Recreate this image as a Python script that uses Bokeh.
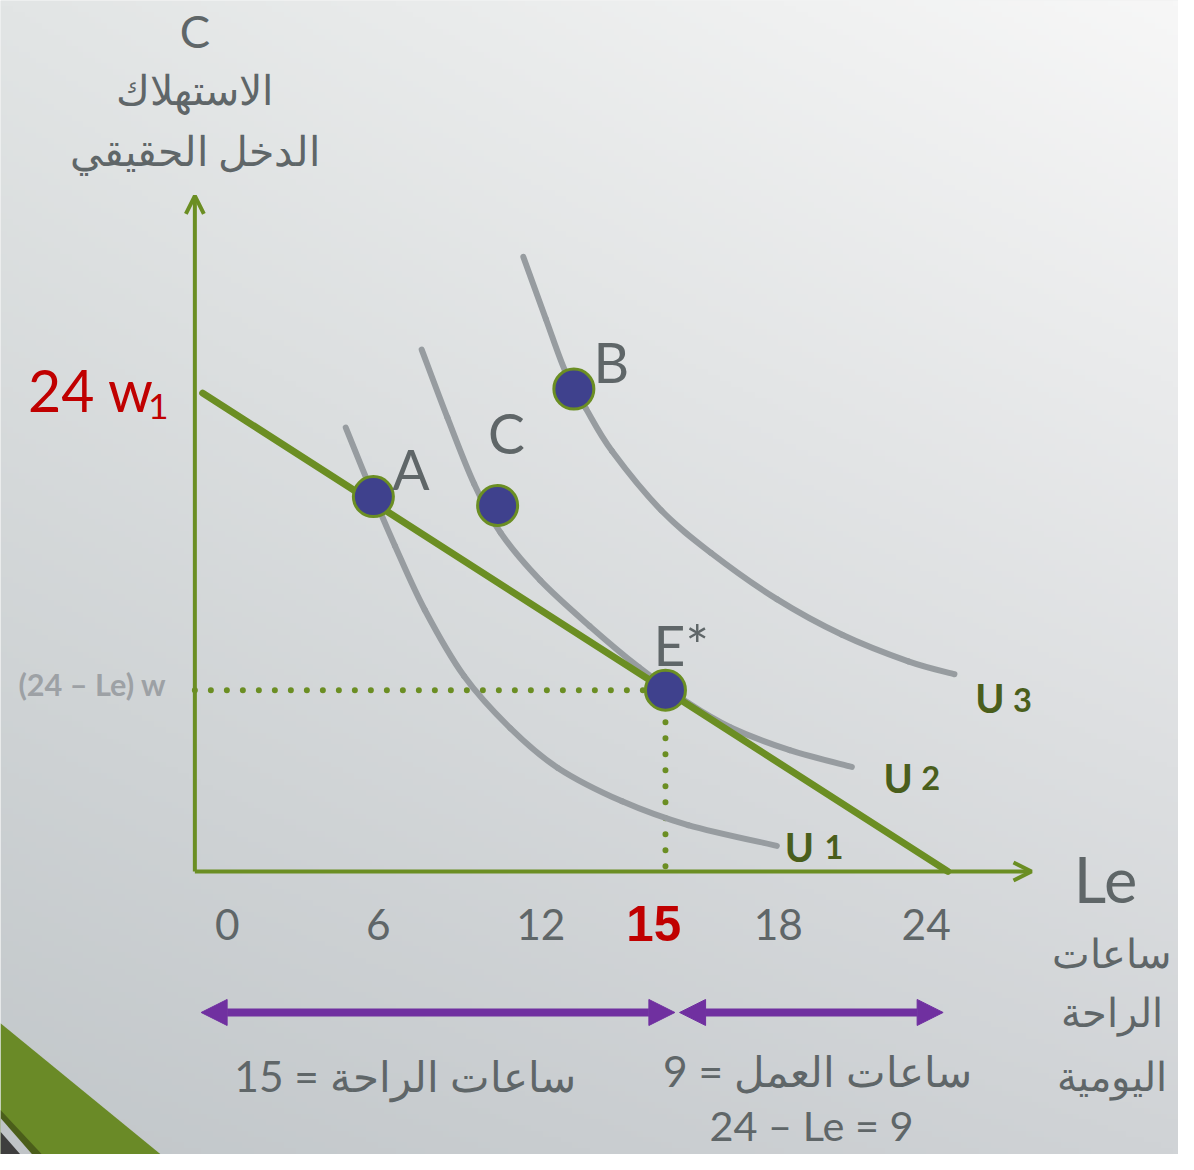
import numpy as np
from bokeh.plotting import figure
from bokeh.models import Range1d, Arrow, OpenHead, NormalHead
from bokeh.core.properties import value
from bokeh.embed import file_html
from bokeh.resources import INLINE

# ---------------- data (Le = daily leisure hours, C = consumption) ----------------
u1_le = [4.81, 5.69, 6.38, 7.33, 8.58, 10.06, 11.57, 13.62, 15.72, 18.55]
u1_c = [22.04, 18.66, 16.16, 12.98, 9.70, 7.10, 5.14, 3.48, 2.30, 1.27]
u2_le = [7.23, 8.05, 8.90, 9.75, 11.01, 12.58, 14.15, 15.72, 17.08, 18.96, 20.94]
u2_c = [25.91, 22.53, 19.25, 16.80, 14.45, 12.19, 10.14, 8.37, 7.15, 6.02, 5.19]
u3_le = [10.47, 11.19, 11.82, 12.45, 13.30, 14.87, 16.45, 18.55, 20.63, 22.74, 24.21]
u3_c = [30.51, 27.42, 24.78, 23.02, 20.86, 17.92, 15.82, 13.52, 11.75, 10.43, 9.79]
curve_names = ["U", "U", "U"]
curve_index = ["1", "2", "3"]

point_names = ["A", "C", "B", "E*"]
point_le = [5.69, 9.65, 12.08, 15.0]
point_c = [18.61, 18.17, 23.95, 9.0]

budget_le = [0.25, 24.0]
budget_c = [23.75, 0.0]

total_hours = 24
le_star = 15
work_hours = total_hours - le_star

tick_values = [0, 6, 12, 15, 18, 24]
tick_labels = ["0", "6", "12", "15", "18", "24"]

# ---------------- layout / style ----------------
W, H = 1178, 1154
REF_W, REF_H = 1194, 1170
S = W / REF_W
ORIG_X, PX_PER_H = 197.0, 31.8      # reference pixel of Le = 0, pixels per hour
ORIG_Y, PX_PER_C = 883.0, 20.42     # reference pixel of C = 0, pixels per unit


def X(px):
    return (px - ORIG_X) / PX_PER_H


def Y(py):
    return (ORIG_Y - py) / PX_PER_C


def fs(n):
    return f"{n * S:.1f}px"


def sc(vals):
    return [v * S for v in vals]


GREEN = "#6b8e23"
CURVE = "#979ca0"
DOT = "#3f418d"
TXT = "#5f6668"
RED = "#c00000"
ULAB = "#4a5e1c"
PURPLE = "#7030a0"
LATIN = value("Lato")

p = figure(width=W, height=H, output_backend="svg", toolbar_location=None,
           x_range=Range1d(X(0), X(REF_W)), y_range=Range1d(Y(REF_H), Y(0)),
           x_axis_location=None, y_axis_location=None, min_border=0)
p.grid.visible = False
p.outline_line_color = None
p.background_fill_color = "#e6e8e8"
p.border_fill_color = "#e6e8e8"

# background gradient (slide)
ny, nx = 200, 200
u = np.linspace(0, 1, nx)[None, :, None]
v = np.linspace(0, 1, ny)[:, None, None]
TL = np.array([226, 229, 229]); TR = np.array([247, 247, 247])
BL = np.array([194, 199, 202]); BR = np.array([208, 211, 214])
rgb = BL * (1 - u) * (1 - v) + BR * u * (1 - v) + TL * (1 - u) * v + TR * u * v
img = np.empty((ny, nx), dtype=np.uint32)
view = img.view(dtype=np.uint8).reshape((ny, nx, 4))
view[..., :3] = np.clip(rgb, 0, 255).astype(np.uint8)
view[..., 3] = 255
p.image_rgba(image=[img], x=X(0), y=Y(REF_H), dw=X(REF_W) - X(0), dh=Y(0) - Y(REF_H))

# slide corner decoration
for poly, col in [([(0, 1037), (165, 1172), (0, 1172)], "#6a8a27"),
                  ([(0, 1125), (44, 1172), (0, 1172)], "#4b5e1a"),
                  ([(0, 1133), (34, 1172), (0, 1172)], "#c0c4c7"),
                  ([(0, 1147), (22, 1172), (0, 1172)], "#3e3e3e")]:
    p.patch([X(a) for a, b in poly], [Y(b) for a, b in poly], fill_color=col, line_color=None)

# axes with arrow heads
p.add_layout(Arrow(x_start=0, y_start=0, x_end=0, y_end=Y(198), line_color=GREEN, line_width=4,
                   end=OpenHead(size=18, line_color=GREEN, line_width=4)))
p.add_layout(Arrow(x_start=0, y_start=0, x_end=X(1045), y_end=0, line_color=GREEN, line_width=4,
                   end=OpenHead(size=18, line_color=GREEN, line_width=4)))

# dotted guides to the optimum
p.line([0, le_star], [work_hours, work_hours], line_color=GREEN, line_width=6,
       line_dash="0 16", line_cap="round")
p.line([le_star, le_star], [work_hours, 0], line_color=GREEN, line_width=6,
       line_dash="0 16", line_cap="round")


# indifference curves, drawn as smooth Bezier segments through the read points
def bezier_through(xs, ys):
    P = np.column_stack([xs, ys]).astype(float)
    n = len(P)
    out = {k: [] for k in ("x0", "y0", "x1", "y1", "cx0", "cy0", "cx1", "cy1")}
    for i in range(n - 1):
        p0 = P[i - 1] if i > 0 else P[i]
        p1, p2 = P[i], P[i + 1]
        p3 = P[i + 2] if i + 2 < n else P[i + 1]
        c1 = p1 + (p2 - p0) / 6.0
        c2 = p2 - (p3 - p1) / 6.0
        out["x0"].append(p1[0]); out["y0"].append(p1[1])
        out["x1"].append(p2[0]); out["y1"].append(p2[1])
        out["cx0"].append(c1[0]); out["cy0"].append(c1[1])
        out["cx1"].append(c2[0]); out["cy1"].append(c2[1])
    return out


for xs, ys in [(u1_le, u1_c), (u2_le, u2_c), (u3_le, u3_c)]:
    p.bezier(**bezier_through(xs, ys), line_color=CURVE, line_width=6, line_cap="round")

# budget line
p.line(budget_le, budget_c, line_color=GREEN, line_width=7, line_cap="round")

# points
p.scatter(point_le, point_c, size=40, fill_color=DOT, line_color=GREEN, line_width=3)
p.text(point_le, point_c, text=point_names, x_offset=sc([38, 9, 38, 16]),
       y_offset=sc([-28, -73, -27, -46]),
       text_font=LATIN, text_font_size=fs(56), text_color=TXT, text_align="center",
       text_baseline="middle")

# curve labels
ends_le = [u1_le[-1], u2_le[-1], u3_le[-1]]
ends_c = [u1_c[-1], u2_c[-1], u3_c[-1]]
p.text(ends_le, ends_c, text=curve_names, x_offset=sc([23, 47, 36]), y_offset=sc([1, 11, 24]),
       text_font=LATIN, text_font_size=fs(40), text_font_style="bold", text_color=ULAB,
       text_align="center", text_baseline="alphabetic")
p.text(ends_le, ends_c, text=curve_index, x_offset=sc([58, 80, 69]), y_offset=sc([1, 11, 26]),
       text_font=LATIN, text_font_size=fs(33), text_font_style="bold", text_color=ULAB,
       text_align="center", text_baseline="alphabetic")

# x tick labels
tick_dx = [33, -5, -31, -12, 19, -22]
norm = [i for i, t in enumerate(tick_values) if t != le_star]
p.text([tick_values[i] for i in norm], [Y(937)] * len(norm), text=[tick_labels[i] for i in norm],
       x_offset=sc([tick_dx[i] for i in norm]), text_font=LATIN, text_font_size=fs(43),
       text_color=TXT, text_align="center", text_baseline="middle")
k = tick_values.index(le_star)
p.text([tick_values[k]], [Y(936)], text=[tick_labels[k]], x_offset=sc([tick_dx[k]]),
       text_font=value("Liberation Sans"), text_font_size=fs(50), text_font_style="bold",
       text_color=RED, text_align="center", text_baseline="middle")

# y axis title
p.text([0], [Y(30)], text=["C"], text_font=LATIN, text_font_size=fs(46), text_color=TXT,
       text_align="center", text_baseline="middle")
p.text([0, 0], [Y(90), Y(152)], text=["الاستهلاك", "الدخل الحقيقي"], text_font=LATIN,
       text_font_size=fs(42), text_color=TXT, text_align="center", text_baseline="middle")

# intercept labels
p.text([X(28)], [budget_c[0]], text=["24 w"], y_offset=sc([-3]), text_font=LATIN,
       text_font_size=fs(58), text_color=RED, text_align="left", text_baseline="middle")
p.text([X(160)], [budget_c[0]], text=["1"], y_offset=sc([14]), text_font=LATIN,
       text_font_size=fs(36), text_color=RED, text_align="center", text_baseline="middle")
p.text([X(93)], [work_hours], text=["(24 – Le) w"], y_offset=sc([-6]), text_font=LATIN,
       text_font_size=fs(31), text_font_style="bold", text_color="#9da1a5",
       text_align="center", text_baseline="middle")

# x axis title
p.text([X(1120)], [Y(890)], text=["Le"], text_font=LATIN, text_font_size=fs(64), text_color=TXT,
       text_align="center", text_baseline="middle")
p.text([X(1127)] * 3, [Y(965), Y(1025), Y(1090)], text=["ساعات", "الراحة", "اليومية"],
       text_font=LATIN, text_font_size=fs(40), text_color=TXT, text_align="center",
       text_baseline="middle")

# leisure / work spans
yarr = Y(1026)
for xs, xe in [(0.2, le_star + 0.3), (le_star + 0.45, total_hours - 0.15)]:
    p.add_layout(Arrow(x_start=xs, y_start=yarr, x_end=xe, y_end=yarr, line_color=PURPLE,
                       line_width=8,
                       start=NormalHead(size=26, fill_color=PURPLE, line_color=PURPLE),
                       end=NormalHead(size=26, fill_color=PURPLE, line_color=PURPLE)))

p.text([X(410), X(828)], [Y(1090), Y(1085)],
       text=[f"{le_star} = ساعات الراحة", f"{work_hours} = ساعات العمل"],
       text_font=LATIN, text_font_size=fs(43), text_color=TXT, text_align="center",
       text_baseline="middle")
p.text([X(822)], [Y(1140)], text=[f"{total_hours} – Le = {work_hours}"],
       text_font=LATIN, text_font_size=fs(42), text_color=TXT, text_align="center",
       text_baseline="middle")

open("out.html", "w").write(file_html(p, INLINE))
